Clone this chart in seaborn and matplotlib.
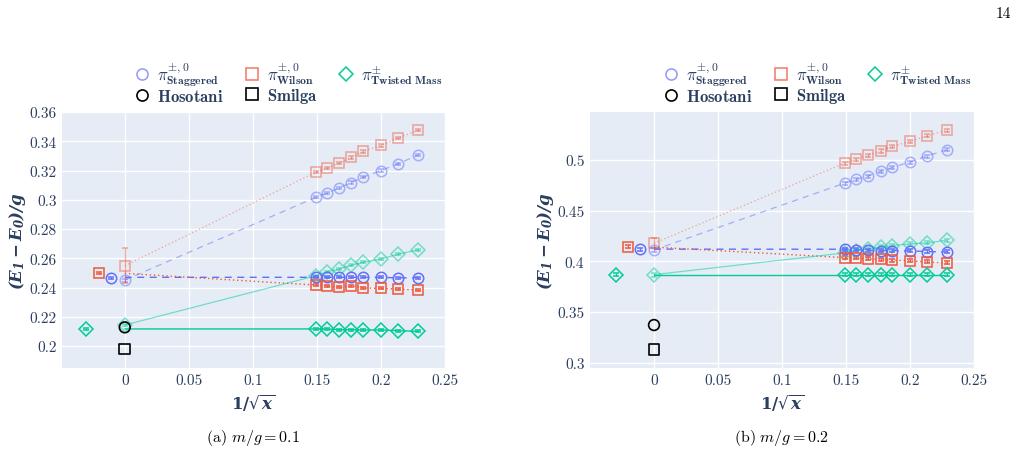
import numpy as np
import pandas as pd
import seaborn as sns
import matplotlib
matplotlib.use("Agg")
import matplotlib.pyplot as plt
from matplotlib.lines import Line2D

# ---------------- data ----------------
inv_sqrt_x = [0.149, 0.158, 0.167, 0.177, 0.186, 0.200, 0.213, 0.229]

# (a) m/g = 0.1
a_stag_light = [0.3016, 0.3045, 0.3081, 0.3118, 0.3154, 0.3200, 0.3245, 0.3306]
a_stag_dark = [0.2470, 0.2470, 0.2470, 0.2470, 0.2470, 0.2470, 0.2466, 0.2468]
a_wil_light = [0.3188, 0.3216, 0.3250, 0.3289, 0.3330, 0.3371, 0.3420, 0.3475]
a_wil_dark = [0.2417, 0.2412, 0.2401, 0.2412, 0.2397, 0.2394, 0.2390, 0.2383]
a_tm_light = [0.2480, 0.2508, 0.2526, 0.2553, 0.2572, 0.2595, 0.2627, 0.2658]
a_tm_dark = [0.2117, 0.2117, 0.2112, 0.2112, 0.2110, 0.2110, 0.2105, 0.2101]
# extrapolations at 1/sqrt(x)=0 (light) and continuum values (dark, offset)
a_extrap = {"stag": 0.2451, "wil": 0.2549, "tm": 0.2144}
a_extrap_err = {"stag": 0.001, "wil": 0.012, "tm": 0.001}
a_cont = {"stag": 0.2467, "wil": 0.2499, "tm": 0.2116}
a_fit0 = {"stag": 0.2470, "wil": 0.2497, "tm": 0.2117}
a_hosotani = 0.2128
a_smilga = 0.198

# (b) m/g = 0.2
b_stag_light = [0.4770, 0.4806, 0.4839, 0.4885, 0.4924, 0.4977, 0.5036, 0.5099]
b_stag_dark = [0.4119, 0.4115, 0.4109, 0.4106, 0.4106, 0.4103, 0.4096, 0.4093]
b_wil_light = [0.4967, 0.5003, 0.5042, 0.5086, 0.5131, 0.5180, 0.5234, 0.5289]
b_wil_dark = [0.4037, 0.4034, 0.4024, 0.4021, 0.4011, 0.4004, 0.3994, 0.3984]
b_tm_light = [0.4083, 0.4106, 0.4122, 0.4142, 0.4155, 0.4172, 0.4181, 0.4208]
b_tm_dark = [0.3870, 0.3870, 0.3870, 0.3870, 0.3870, 0.3870, 0.3870, 0.3870]
b_extrap = {"stag": 0.4112, "wil": 0.4178, "tm": 0.3869}
b_extrap_err = {"stag": 0.002, "wil": 0.005, "tm": 0.002}
b_cont = {"stag": 0.4120, "wil": 0.4142, "tm": 0.3870}
b_fit0 = {"stag": 0.4120, "wil": 0.4140, "tm": 0.3870}
b_hosotani = 0.3373
b_smilga = 0.3129

cont_offset = {"stag": -0.0107, "wil": -0.020, "tm": -0.030}

a_yticks = [0.2, 0.22, 0.24, 0.26, 0.28, 0.3, 0.32, 0.34, 0.36]
a_yticklabels = ["0.2", "0.22", "0.24", "0.26", "0.28", "0.3", "0.32", "0.34", "0.36"]
b_yticks = [0.3, 0.35, 0.4, 0.45, 0.5]
b_yticklabels = ["0.3", "0.35", "0.4", "0.45", "0.5"]
xticks = [0, 0.05, 0.1, 0.15, 0.2, 0.25]
xticklabels = ["0", "0.05", "0.1", "0.15", "0.2", "0.25"]

# ---------------- style ----------------
sns.set_theme(style="darkgrid", rc={"axes.facecolor": "#E5ECF6", "grid.color": "white",
                                    "axes.edgecolor": "none"})
plt.rcParams["font.family"] = ["cmr10", "DejaVu Serif"]
plt.rcParams["axes.formatter.use_mathtext"] = True
plt.rcParams["mathtext.fontset"] = "cm"

BLUE = "#636EFA"
RED = "#EF553B"
GREEN = "#00CC96"
TXT = "#2a3f5f"
styles = {"stag": (BLUE, "o", (0, (5, 4))), "wil": (RED, "s", (0, (1, 2))), "tm": (GREEN, "D", "-")}
MS = 7.5
MEW = 1.1

fig = plt.figure(figsize=(10.28, 4.56), dpi=100)
ax_a = fig.add_axes([62 / 1028, 1 - 369 / 456, 383 / 1028, 256 / 456])
ax_b = fig.add_axes([590 / 1028, 1 - 369 / 456, 384 / 1028, 256 / 456])


def draw(ax, light, dark, extrap, extrap_err, cont, fit0, hos, smi, err):
    for key in ["stag", "wil", "tm"]:
        col, mk, ls = styles[key]
        ms_ = MS * (0.9 if mk == "D" else 1.0)
        # light series: extrapolation + fit line through data
        xl = [0.0] + inv_sqrt_x
        yl = [extrap[key]] + light[key]
        df = pd.DataFrame({"x": xl, "y": yl})
        sns.lineplot(data=df, x="x", y="y", ax=ax, color=col, alpha=0.5, lw=0.9,
                     linestyle=ls, sort=False, estimator=None, zorder=2)
        ax.errorbar(xl, yl, yerr=[extrap_err[key]] + [err] * len(inv_sqrt_x), fmt=mk,
                    ms=ms_, mfc="none", mec=col, mew=MEW, ecolor=col, elinewidth=0.9,
                    capsize=2.5, alpha=0.5, zorder=3)
        # dark series: continuum point + fit line through data
        xd = [0.0] + inv_sqrt_x
        yd = [fit0[key]] + dark[key]
        df = pd.DataFrame({"x": xd, "y": yd})
        sns.lineplot(data=df, x="x", y="y", ax=ax, color=col, alpha=1.0, lw=1.0,
                     linestyle=ls, sort=False, estimator=None, zorder=2)
        ax.errorbar(inv_sqrt_x + [cont_offset[key]], dark[key] + [cont[key]],
                    yerr=err, fmt=mk, ms=ms_, mfc="none", mec=col, mew=MEW,
                    ecolor=col, elinewidth=0.9, capsize=2.5, zorder=4)
    ref = pd.DataFrame({"x": [0.0, 0.0], "y": [hos, smi], "name": ["Hosotani", "Smilga"]})
    sns.scatterplot(data=ref, x="x", y="y", style="name", markers={"Hosotani": "o", "Smilga": "s"},
                    ax=ax, s=60, facecolor="none", edgecolor="black", linewidth=1.2,
                    legend=False, zorder=5)


draw(ax_a,
     {"stag": a_stag_light, "wil": a_wil_light, "tm": a_tm_light},
     {"stag": a_stag_dark, "wil": a_wil_dark, "tm": a_tm_dark},
     a_extrap, a_extrap_err, a_cont, a_fit0, a_hosotani, a_smilga, 0.0007)
draw(ax_b,
     {"stag": b_stag_light, "wil": b_wil_light, "tm": b_tm_light},
     {"stag": b_stag_dark, "wil": b_wil_dark, "tm": b_tm_dark},
     b_extrap, b_extrap_err, b_cont, b_fit0, b_hosotani, b_smilga, 0.0015)

ax_a.set_xlim(-0.049, 0.25)
ax_a.set_ylim(0.185, 0.36)
ax_a.set_yticks(a_yticks, a_yticklabels)
ax_b.set_xlim(-0.05, 0.25)
ax_b.set_ylim(0.295, 0.547)
ax_b.set_yticks(b_yticks, b_yticklabels)

for ax in (ax_a, ax_b):
    ax.set_xticks(xticks, xticklabels)
    ax.grid(True, color="white", lw=1.0)
    ax.tick_params(axis="both", length=0, pad=4, labelsize=11, labelcolor=TXT)
    ax.set_xlabel(r"$\mathbf{1/}\sqrt{\mathbfit{x}}$", fontsize=12, color=TXT, labelpad=3,
                  math_fontfamily="dejavuserif")
    ax.set_ylabel(r"$\mathbfit{(E_1 - E_0)/g}$", fontsize=12, color=TXT, labelpad=1,
                  math_fontfamily="dejavuserif")
    for s in ax.spines.values():
        s.set_visible(False)

# legends
handles = [
    Line2D([], [], marker="o", ls="", mfc="none", mec=BLUE, mew=1.1, ms=8, alpha=0.7),
    Line2D([], [], marker="o", ls="", mfc="none", mec="black", mew=1.2, ms=8),
    Line2D([], [], marker="s", ls="", mfc="none", mec=RED, mew=1.1, ms=8, alpha=0.8),
    Line2D([], [], marker="s", ls="", mfc="none", mec="black", mew=1.2, ms=8),
    Line2D([], [], marker="D", ls="", mfc="none", mec=GREEN, mew=1.1, ms=7),
]
labels = [r"$\pi^{\pm,0}_{\mathbf{Staggered}}$", r"$\mathbf{Hosotani}$",
          r"$\pi^{\pm,0}_{\mathbf{Wilson}}$", r"$\mathbf{Smilga}$",
          r"$\pi^{\pm}_{\mathbf{Twisted\ Mass}}$"]
for x0 in (127 / 1028, 656 / 1028):
    leg = fig.legend(handles, labels, loc="upper left", bbox_to_anchor=(x0, 1 - 53 / 456),
                     ncol=3, frameon=False, handlelength=0.8, handletextpad=0.5,
                     columnspacing=1.3, labelspacing=0.0, fontsize=12, borderpad=0)
    for t in leg.get_texts():
        t.set_color(TXT)

fig.text(253 / 1028, 1 - 438 / 456, r"$\mathrm{(a)}\ m/g = 0.1$", ha="center", va="center",
         fontsize=11.5, color="black")
fig.text(782 / 1028, 1 - 438 / 456, r"$\mathrm{(b)}\ m/g = 0.2$", ha="center", va="center",
         fontsize=11.5, color="black")
fig.text(1011 / 1028, 1 - 14 / 456, "14", ha="right", va="center", fontsize=11, color="black")

fig.savefig("out.png", dpi=100)
